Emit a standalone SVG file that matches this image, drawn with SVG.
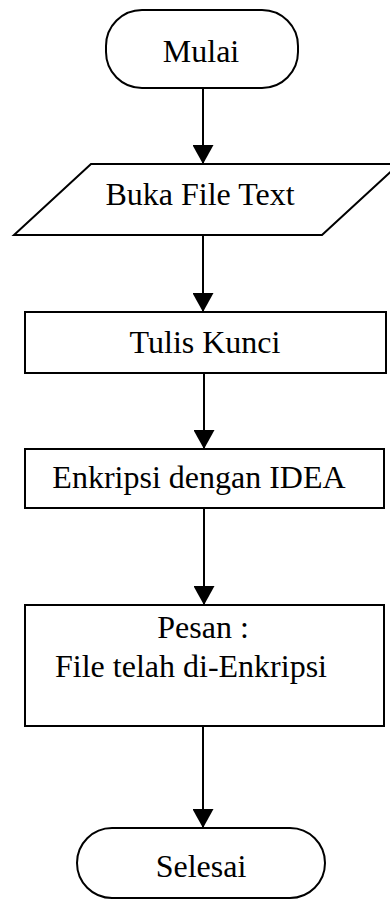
<svg xmlns="http://www.w3.org/2000/svg" width="390" height="905" viewBox="0 0 390 905">
<style>
.shape{fill:#fff;stroke:#000;stroke-width:2}
.lbl{font-family:"Liberation Serif","Times New Roman",serif;font-size:32px;fill:#000;text-anchor:middle}
.conn{stroke:#000;stroke-width:2;fill:none}
</style>
<defs>
<marker id="arrow" markerWidth="19" markerHeight="21" refX="19" refY="10.5" orient="auto" markerUnits="userSpaceOnUse" viewBox="0 0 19 21">
<path d="M0,0 L19,10.5 L0,21 Z" fill="#000"/>
</marker>
</defs>
<g id="connectors">
<line class="conn" x1="203" y1="88" x2="203" y2="164" marker-end="url(#arrow)"/>
<line class="conn" x1="203" y1="235" x2="203" y2="312" marker-end="url(#arrow)"/>
<line class="conn" x1="204" y1="373" x2="204" y2="449" marker-end="url(#arrow)"/>
<line class="conn" x1="204" y1="508" x2="204" y2="605" marker-end="url(#arrow)"/>
<line class="conn" x1="203" y1="726" x2="203" y2="828" marker-end="url(#arrow)"/>
</g>
<g id="mulai">
<rect class="shape" x="106" y="10" width="192" height="78" rx="36" ry="36"/>
<text class="lbl" x="201" y="62">Mulai</text>
</g>
<g id="buka">
<polygon class="shape" points="91,164 399,164 322,235 14,235"/>
<text class="lbl" x="200" y="205">Buka File Text</text>
</g>
<g id="tulis">
<rect class="shape" x="25" y="312" width="361" height="61"/>
<text class="lbl" x="205" y="353">Tulis Kunci</text>
</g>
<g id="enkripsi">
<rect class="shape" x="25" y="449" width="359" height="59"/>
<text class="lbl" x="199" y="488">Enkripsi dengan IDEA</text>
</g>
<g id="pesan">
<rect class="shape" x="25" y="605" width="359" height="121"/>
<text class="lbl" x="203" y="638">Pesan :</text>
<text class="lbl" x="191" y="677">File telah di-Enkripsi</text>
</g>
<g id="selesai">
<rect class="shape" x="77" y="828" width="248" height="70" rx="35" ry="35"/>
<text class="lbl" x="201" y="877">Selesai</text>
</g>
</svg>
